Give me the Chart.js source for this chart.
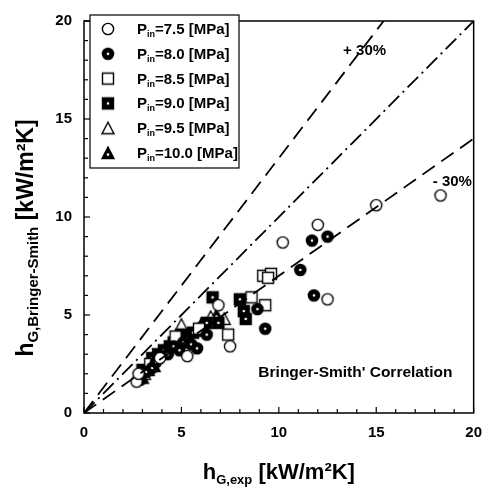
<!DOCTYPE html>
<html>
<head>
<meta charset="utf-8">
<script src="https://cdn.jsdelivr.net/npm/chart.js@4.4.0/dist/chart.umd.min.js"></script>
<style>
  body { margin: 0; background: #fff; }
  #wrap { width: 493px; height: 488px; }
</style>
</head>
<body>
<div id="wrap"><canvas id="chart" width="493" height="488"></canvas></div>
<script>
// dados: [h_exp, h_Bringer-Smith] em kW/m2K
const p75 = [[2.7,1.6],[2.8,2.0],[3.9,2.8],[5.3,2.9],[6.9,5.5],[7.5,3.4],[10.2,8.7],[12.0,9.6],[12.5,5.8],[15.0,10.6],[18.3,11.1]];
const p80 = [[2.9,1.7],[3.2,2.1],[3.5,2.3],[3.7,2.6],[4.3,3.0],[4.6,3.4],[4.9,3.2],[5.1,3.6],[5.5,3.5],[5.8,3.3],[6.3,4.0],[8.9,5.3],[9.3,4.3],[11.1,7.3],[11.7,8.8],[12.5,9.0],[11.8,6.0]];
const p85 = [[3.4,2.5],[4.7,3.9],[5.9,4.3],[7.4,4.0],[8.6,5.9],[9.3,5.5],[9.2,7.0],[9.6,7.1],[9.45,6.9]];
const p90 = [[3.0,2.2],[3.5,2.8],[3.8,3.0],[4.1,3.2],[4.4,3.4],[4.6,3.6],[5.0,4.0],[5.3,3.8],[5.6,4.1],[6.1,4.3],[6.3,4.6],[6.6,5.9],[6.9,4.6],[8.0,5.8],[8.2,5.2],[8.3,4.8]];
const p95 = [[3.1,2.0],[4.0,3.1],[5.0,4.5],[5.4,3.8],[6.5,4.9],[7.2,4.8]];
const p100 = [[3.0,1.8],[3.3,2.2],[3.6,2.4],[4.4,3.4],[4.8,3.7],[5.2,3.9],[5.7,4.2],[6.0,4.5],[6.8,5.0]];

// linhas de referência
const linePlus30 = [[0,0],[15.38,20]];
const lineEqual = [[0,0],[20,20]];
const lineMinus30 = [[0,0],[20,14]];

const pressures = ['7.5', '8.0', '8.5', '9.0', '9.5', '10.0'];
const xTicks = [0, 5, 10, 15, 20];
const yTicks = [0, 5, 10, 15, 20];

function toXY(arr) {
    return arr.map(p => ({ x: p[0], y: p[1] }));
}

// marcadores desenhados num canvas pequeno
function makeMarker(shape, filled) {
    const c = document.createElement('canvas');
    c.width = 16; c.height = 16;
    const g = c.getContext('2d');
    g.strokeStyle = '#000';
    g.fillStyle = filled ? '#000' : '#fff';
    g.lineWidth = 1.4;
    g.beginPath();
    if (shape === 'circle') g.arc(8, 8, 5.6, 0, Math.PI * 2);
    else if (shape === 'square') g.rect(2.5, 2.5, 11, 11);
    else { g.moveTo(8, 2); g.lineTo(14, 13.5); g.lineTo(2, 13.5); g.closePath(); }
    g.fill();
    g.stroke();
    if (filled) {
        g.fillStyle = '#fff';
        g.beginPath();
        g.arc(8, shape === 'triangle' ? 9.6 : 8, 1.3, 0, Math.PI * 2);
        g.fill();
    }
    return c;
}

const markers = [
    makeMarker('circle', false),
    makeMarker('circle', true),
    makeMarker('square', false),
    makeMarker('square', true),
    makeMarker('triangle', false),
    makeMarker('triangle', true)
];

const series = [p75, p80, p85, p90, p95, p100];

const FONT = '"Liberation Sans", Arial, sans-serif';

function refLine(data, dash) {
    return {
        data: toXY(data),
        showLine: true,
        borderColor: '#000',
        borderWidth: 1.8,
        borderDash: dash,
        pointRadius: 0,
        fill: false
    };
}

const datasets = [
    refLine(linePlus30, [15, 8]),
    refLine(lineEqual, [15, 5, 2, 5]),
    refLine(lineMinus30, [15, 8])
];
series.forEach((s, i) => {
    datasets.push({
        label: 'P=' + pressures[i],
        data: toXY(s),
        pointStyle: markers[i],
        pointRadius: 6,
        showLine: false
    });
});

// moldura, ticks internos, legenda e textos
const decor = {
    id: 'decor',
    afterDatasetsDraw(chart) {
        const ctx = chart.ctx;
        const a = chart.chartArea;
        const xs = chart.scales.x, ys = chart.scales.y;
        ctx.save();
        ctx.strokeStyle = '#000';
        ctx.lineWidth = 1.5;
        ctx.strokeRect(a.left, a.top, a.right - a.left, a.bottom - a.top);

        ctx.lineWidth = 1.2;
        for (let v = 0; v <= 20; v++) {
            const len = v % 5 === 0 ? 6 : 4;
            const px = xs.getPixelForValue(v);
            ctx.beginPath(); ctx.moveTo(px, a.bottom); ctx.lineTo(px, a.bottom - len); ctx.stroke();
            const py = ys.getPixelForValue(v);
            ctx.beginPath(); ctx.moveTo(a.left, py); ctx.lineTo(a.left + len, py); ctx.stroke();
        }

        // legenda
        const bx = 90, by = 15, bw = 149, bh = 153;
        ctx.fillStyle = '#fff';
        ctx.fillRect(bx, by, bw, bh);
        ctx.lineWidth = 1.2;
        ctx.strokeRect(bx, by, bw, bh);
        ctx.fillStyle = '#000';
        ctx.textBaseline = 'alphabetic';
        pressures.forEach((p, i) => {
            const cy = 29 + i * 24.8;
            const m = markers[i];
            ctx.drawImage(m, 108 - m.width / 2, cy - m.height / 2);
            let tx = 137;
            ctx.font = 'bold 15px ' + FONT;
            ctx.fillText('P', tx, cy + 5);
            tx += ctx.measureText('P').width;
            ctx.font = 'bold 9px ' + FONT;
            ctx.fillText('in', tx, cy + 8);
            tx += ctx.measureText('in').width;
            ctx.font = 'bold 15px ' + FONT;
            ctx.fillText('=' + p + ' [MPa]', tx, cy + 5);
        });

        // anotações
        ctx.font = 'bold 15px ' + FONT;
        ctx.textBaseline = 'middle';
        ctx.fillText('+ 30%', xs.getPixelForValue(13.3), ys.getPixelForValue(18.5));
        ctx.fillText('- 30%', xs.getPixelForValue(17.9), ys.getPixelForValue(11.8));
        ctx.font = 'bold 15.5px ' + FONT;
        ctx.fillText("Bringer-Smith' Correlation", xs.getPixelForValue(8.95), ys.getPixelForValue(2.05));

        // títulos dos eixos
        ctx.textBaseline = 'alphabetic';
        drawTitle(ctx, 'h', 'G,exp', 22, 13, (a.left + a.right) / 2, 479);
        ctx.translate(33, 238);
        ctx.rotate(-Math.PI / 2);
        drawTitle(ctx, 'h', 'G,Bringer-Smith', 23, 15, 0, 0);
        ctx.restore();
    }
};

function drawTitle(ctx, main, sub, bigSize, smallSize, cx, base) {
    const big = 'bold ' + bigSize + 'px ' + FONT, small = 'bold ' + smallSize + 'px ' + FONT;
    const rest = ' [kW/m\u00B2K]';
    ctx.font = big; const w1 = ctx.measureText(main).width;
    ctx.font = small; const w2 = ctx.measureText(sub).width;
    ctx.font = big; const w3 = ctx.measureText(rest).width;
    let x = cx - (w1 + w2 + w3) / 2;
    ctx.font = big; ctx.fillText(main, x, base); x += w1;
    ctx.font = small; ctx.fillText(sub, x, base + 5); x += w2;
    ctx.font = big; ctx.fillText(rest, x, base);
}

new Chart(document.getElementById('chart').getContext('2d'), {
    type: 'scatter',
    data: { datasets },
    options: {
        responsive: false,
        animation: false,
        layout: { padding: { left: 0, right: 11, top: 10, bottom: 0 } },
        plugins: { legend: { display: false }, tooltip: { enabled: false } },
        scales: {
            x: {
                min: 0, max: 20,
                afterFit: s => { s.height = 75; },
                afterBuildTicks: s => { s.ticks = xTicks.map(v => ({ value: v })); },
                grid: { display: false, drawTicks: false },
                border: { display: false },
                ticks: { padding: 11, color: '#000', font: { family: FONT, size: 15, weight: 'bold' } }
            },
            y: {
                min: 0, max: 20,
                afterFit: s => { s.width = 84; },
                afterBuildTicks: s => { s.ticks = yTicks.map(v => ({ value: v })); },
                grid: { display: false, drawTicks: false },
                border: { display: false },
                ticks: { padding: 12, color: '#000', font: { family: FONT, size: 15, weight: 'bold' } }
            }
        }
    },
    plugins: [decor]
});
</script>
</body>
</html>
